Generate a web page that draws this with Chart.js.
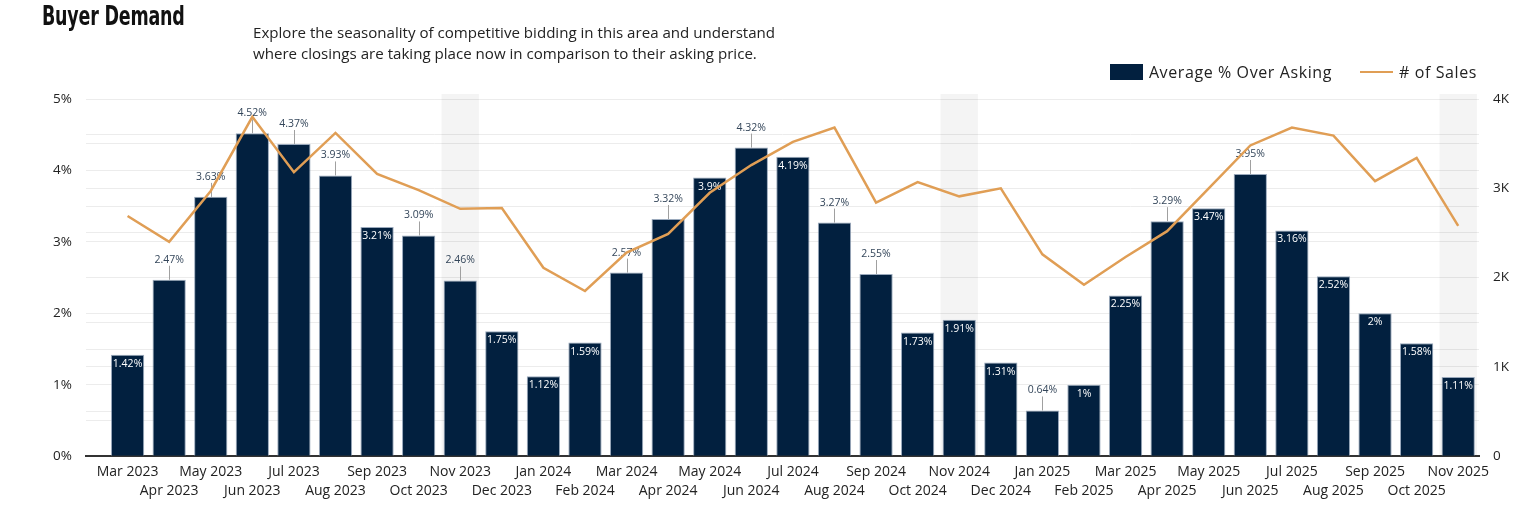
<!DOCTYPE html>
<html>
<head>
<meta charset="utf-8">
<script src="https://cdn.jsdelivr.net/npm/chart.js@4.4.1/dist/chart.umd.min.js"></script>
<style>
  html, body { margin: 0; padding: 0; background: #fff; }
  body { width: 1533px; height: 506px; position: relative; overflow: hidden; font-family: 'Open Sans', sans-serif; color: #222; }
  #wrap { position: absolute; left: 0; top: 0; width: 1533px; height: 506px; }
  #title { position: absolute; left: 42px; top: 0px; font-family: 'Liberation Sans Narrow', 'DejaVu Sans Condensed', sans-serif; font-weight: bold; font-size: 27px; letter-spacing: -0.3px; color: #111; transform-origin: left top; transform: scaleX(0.72); white-space: nowrap; }
  #subtitle { position: absolute; left: 253px; top: 22px; font-size: 15.1px; line-height: 21px; color: #222; }
  #legend { position: absolute; right: 56px; top: 61px; display: flex; align-items: center; font-size: 16px; letter-spacing: 0.6px; color: #222; }
  .lg-item { display: flex; align-items: center; }
  .lg-box { width: 33px; height: 16px; background: #02203f; margin-right: 6px; }
  .lg-line { width: 33px; height: 2.5px; background: #E09E55; margin-right: 6px; margin-left: 28px; }
</style>
</head>
<body>
<div id="wrap"><canvas id="c"></canvas></div>
<div id="title">Buyer Demand</div>
<div id="subtitle">Explore the seasonality of competitive bidding in this area and understand<br>where closings are taking place now in comparison to their asking price.</div>
<div id="legend">
  <div class="lg-item"><div class="lg-box"></div><span>Average % Over Asking</span></div>
  <div class="lg-item"><div class="lg-line"></div><span># of Sales</span></div>
</div>
<script>
const categories = [
  'Mar 2023','Apr 2023','May 2023','Jun 2023','Jul 2023','Aug 2023','Sep 2023','Oct 2023','Nov 2023','Dec 2023',
  'Jan 2024','Feb 2024','Mar 2024','Apr 2024','May 2024','Jun 2024','Jul 2024','Aug 2024','Sep 2024','Oct 2024','Nov 2024','Dec 2024',
  'Jan 2025','Feb 2025','Mar 2025','Apr 2025','May 2025','Jun 2025','Jul 2025','Aug 2025','Sep 2025','Oct 2025','Nov 2025'
];
const pctOverAsking = [
  1.42, 2.47, 3.63, 4.52, 4.37, 3.93, 3.21, 3.09, 2.46, 1.75,
  1.12, 1.59, 2.57, 3.32, 3.9, 4.32, 4.19, 3.27, 2.55, 1.73, 1.91, 1.31,
  0.64, 1, 2.25, 3.29, 3.47, 3.95, 3.16, 2.52, 2, 1.58, 1.11
];
const numSales = [
  2690, 2400, 2970, 3800, 3180, 3620, 3160, 2980, 2770, 2780,
  2110, 1850, 2280, 2490, 2950, 3260, 3520, 3680, 2840, 3070, 2910, 3000,
  2260, 1920, 2230, 2520, 3000, 3480, 3680, 3590, 3080, 3340, 2580
];
// which bar labels sit above the bar (with a leader line) rather than inside it
const labelAbove = [
  0,1,1,1,1,1,0,1,1,0,
  0,0,1,1,0,1,0,1,1,0,0,0,
  1,0,0,1,0,1,0,0,0,0,0
].map(Boolean);
const highlightedMonths = ['Nov 2023', 'Nov 2024', 'Nov 2025'];
const leftTicks = [0, 1, 2, 3, 4, 5];
const rightTickLabels = { 0: '0', 1000: '1K', 2000: '2K', 3000: '3K', 4000: '4K' };

const FONT = "'Open Sans', sans-serif";
const NAVY = '#02203f';
const ORANGE = '#E09E55';

const barData = pctOverAsking.map((v, i) => ({ x: i, y: v }));
const lineData = numSales.map((v, i) => ({ x: i, y: v }));
const bandData = categories.map((c, i) => highlightedMonths.includes(c) ? { x: i, y: 1 } : null).filter(Boolean);

const barLabelPlugin = {
  id: 'barLabels',
  afterDatasetDraw(chart, args) {
    if (args.index !== 1) return;
    const ctx = chart.ctx;
    ctx.save();
    ctx.font = '10.5px ' + FONT;
    ctx.textAlign = 'center';
    ctx.textBaseline = 'middle';
    args.meta.data.forEach((bar, i) => {
      const text = pctOverAsking[i] + '%';
      if (labelAbove[i]) {
        ctx.strokeStyle = '#a0a0a0';
        ctx.lineWidth = 1;
        ctx.beginPath();
        ctx.moveTo(Math.round(bar.x) + 0.5, bar.y);
        ctx.lineTo(Math.round(bar.x) + 0.5, bar.y - 14);
        ctx.stroke();
        ctx.fillStyle = '#34465a';
        ctx.fillText(text, bar.x, bar.y - 20);
      } else {
        ctx.fillStyle = '#ffffff';
        ctx.fillText(text, bar.x, bar.y + 9);
      }
    });
    ctx.restore();
  }
};

new Chart(document.getElementById('c'), {
  type: 'bar',
  data: {
    datasets: [
      {
        type: 'line',
        label: '# of Sales',
        data: lineData,
        yAxisID: 'y1',
        borderColor: ORANGE,
        borderWidth: 2.5,
        pointRadius: 0,
        tension: 0,
        order: 0
      },
      {
        type: 'bar',
        label: 'Average % Over Asking',
        data: barData,
        yAxisID: 'y',
        backgroundColor: NAVY,
        borderColor: 'rgba(120,140,165,0.75)',
        borderWidth: 1,
        barPercentage: 1,
        categoryPercentage: 0.8,
        grouped: false,
        order: 1
      },
      {
        type: 'bar',
        label: 'highlight',
        data: bandData,
        yAxisID: 'yBand',
        backgroundColor: 'rgba(0,0,0,0.045)',
        borderWidth: 0,
        barPercentage: 1,
        categoryPercentage: 0.9,
        grouped: false,
        clip: false,
        order: 2
      }
    ]
  },
  options: {
    responsive: true,
    maintainAspectRatio: false,
    animation: false,
    layout: { padding: { top: 99, bottom: 0, left: 0, right: 0 } },
    plugins: {
      legend: { display: false },
      tooltip: { enabled: false }
    },
    scales: {
      x: {
        type: 'linear',
        min: -1,
        max: 32.5,
        offset: false,
        grid: { display: false, drawTicks: false },
        border: { display: true, color: '#333', width: 2 },
        afterBuildTicks: (scale) => { scale.ticks = categories.map((c, i) => ({ value: i })); },
        ticks: {
          autoSkip: false,
          maxRotation: 0,
          minRotation: 0,
          padding: 6,
          color: '#222',
          font: { family: FONT, size: 14, lineHeight: 1.35 },
          callback: (value) => {
            const lbl = categories[value];
            return value % 2 === 0 ? [lbl] : ['', lbl];
          }
        }
      },
      y: {
        position: 'left',
        min: 0,
        max: 5,
        grid: { color: '#ececec', drawTicks: false },
        border: { display: false },
        afterFit: (s) => { s.width = 86; },
        ticks: {
          stepSize: 0.5,
          padding: 14,
          color: '#222',
          font: { family: FONT, size: 13.5 },
          callback: (v) => leftTicks.includes(v) ? v + '%' : ''
        }
      },
      y1: {
        position: 'right',
        min: 0,
        max: 4000,
        grid: { color: '#ececec', drawTicks: false },
        border: { display: false },
        afterFit: (s) => { s.width = 54; },
        ticks: {
          stepSize: 500,
          padding: 14,
          color: '#222',
          font: { family: FONT, size: 13.5 },
          callback: (v) => (v in rightTickLabels) ? rightTickLabels[v] : ''
        }
      },
      yBand: {
        display: false,
        min: 0,
        max: 0.986
      }
    }
  },
  plugins: [barLabelPlugin]
});
</script>
</body>
</html>
